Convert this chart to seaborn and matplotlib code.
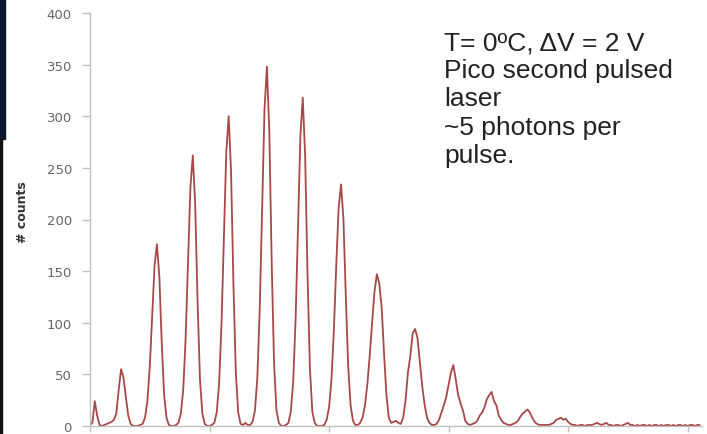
import numpy as np
import pandas as pd
import seaborn as sns
import matplotlib.pyplot as plt
from matplotlib.patches import Rectangle

# counts per channel (channel 0..255)
counts = [
    1, 3, 24, 10, 1, 0, 1, 2, 3, 4, 6, 12, 35, 55, 47, 28,
    10, 2, 0, 0, 0, 1, 2, 8, 24, 57, 107, 155, 176, 145, 81, 30,
    8, 1, 0, 0, 1, 3, 12, 35, 85, 159, 231, 262, 215, 120, 45, 12,
    2, 0, 0, 1, 3, 13, 41, 98, 182, 265, 300, 247, 137, 52, 13, 2,
    1, 3, 1, 1, 4, 15, 47, 113, 211, 307, 348, 286, 159, 60, 15, 3,
    0, 0, 1, 3, 14, 43, 103, 193, 280, 318, 261, 146, 55, 14, 3, 0,
    0, 0, 1, 6, 18, 45, 92, 155, 211, 234, 201, 126, 58, 20, 5, 1,
    1, 3, 8, 20, 40, 68, 100, 130, 147, 138, 115, 70, 30, 8, 3, 4,
    5, 3, 2, 8, 25, 52, 68, 90, 94, 85, 62, 38, 20, 8, 3, 1,
    1, 2, 6, 13, 20, 28, 40, 52, 59, 45, 30, 22, 15, 5, 2, 1,
    2, 3, 5, 10, 13, 18, 26, 30, 33, 24, 20, 10, 6, 3, 2, 1,
    1, 2, 3, 5, 9, 12, 14, 16, 13, 8, 4, 2, 1, 1, 1, 1,
    1, 2, 3, 6, 7, 8, 6, 7, 4, 2, 1, 1, 0, 1, 1, 0,
    1, 1, 1, 2, 3, 2, 1, 2, 3, 1, 1, 0, 1, 1, 0, 1,
    2, 3, 1, 1, 0, 1, 0, 1, 1, 0, 1, 0, 1, 1, 0, 1,
    0, 1, 1, 0, 1, 0, 1, 1, 0, 1, 0, 1, 1, 0, 1, 1,
]
channel = np.arange(len(counts))
y_ticks = [0, 50, 100, 150, 200, 250, 300, 350, 400]
x_ticks = [0, 50, 100, 150, 200, 250]
info_text = "T= 0\u00baC, \u0394V = 2 V\nPico second pulsed\nlaser\n~5 photons per\npulse."

df = pd.DataFrame({"channel": channel, "counts": counts})

sns.set_theme(style="white")
plt.rcParams['font.family'] = ['DejaVu Sans']

fig = plt.figure(figsize=(7.07, 4.35), dpi=100)
ax = fig.add_axes([90 / 707, 8 / 435, 612 / 707, 413 / 435])

sns.lineplot(data=df, x="channel", y="counts", ax=ax, color="#a84848", linewidth=1.3)

ax.set_xlim(0, 256)
ax.set_ylim(0, 400)
ax.set_yticks(y_ticks)
ax.set_xticks(x_ticks)
ax.set_xticklabels([])
ax.set_xlabel("")
ax.set_ylabel("")
ax.tick_params(axis='y', length=6, width=1, color='#c0c0c0', pad=7,
               labelsize=9.5, labelcolor='#666666', left=True)
ax.tick_params(axis='x', length=4, width=1, color='#c0c0c0', bottom=True)
for side in ['top', 'right']:
    ax.spines[side].set_visible(False)
for side in ['left', 'bottom']:
    ax.spines[side].set_color('#c0c0c0')
    ax.spines[side].set_linewidth(1)

fig.text(23 / 707, 1 - 212 / 435, "# counts", rotation=90, ha='center', va='center',
         fontsize=9, fontweight='bold', color='#333333')

fig.text(444 / 707, 1 - 31 / 435, info_text, ha='left', va='top', fontsize=19,
         family=['Liberation Sans', 'DejaVu Sans'], color='#222222', linespacing=1.22)

# dark strip at the left edge of the slide
fig.patches.append(Rectangle((0, 1 - 140 / 435), 5 / 707, 140 / 435,
                             transform=fig.transFigure, color='#0b1633', zorder=5))
fig.patches.append(Rectangle((0, 0), 1.5 / 707, 1 - 140 / 435,
                             transform=fig.transFigure, color='#111111', zorder=5))

fig.savefig("out.png", dpi=100)
